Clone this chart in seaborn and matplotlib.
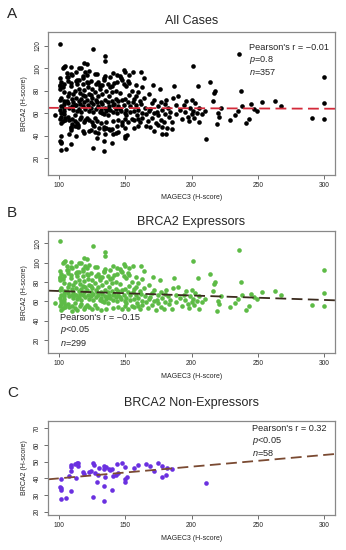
import numpy as np
import pandas as pd
import matplotlib
matplotlib.use("Agg")
import matplotlib.pyplot as plt
import seaborn as sns

sns.set_theme(style="white")
plt.rcParams['font.family'] = ['Liberation Sans', 'DejaVu Sans']
plt.rcParams['mathtext.fontset'] = 'custom'
plt.rcParams['mathtext.rm'] = 'Liberation Sans'
plt.rcParams['mathtext.it'] = 'Liberation Sans:italic'

# BRCA2 expressors (MAGEC3 H-score, BRCA2 H-score)
expr_x = [97, 101, 101, 101, 101, 101, 102, 101, 102, 101, 102, 102, 101, 102, 103, 104, 104, 103, 104, 104, 104, 104, 105, 105, 105, 104,
          106, 107, 107, 107, 107, 107, 108, 108, 108, 109, 109, 109, 110, 110, 110, 110, 111, 111, 111, 112, 112, 112, 113, 113, 113, 113,
          114, 114, 114, 115, 115, 115, 115, 115,
          116, 116, 116, 117, 117, 117, 118, 118, 118, 118, 119, 119, 119, 119, 120, 120, 120, 121, 121, 121, 121, 121, 122, 122, 123, 123,
          123, 123, 124, 124, 124, 125, 125, 125,
          126, 126, 126, 127, 127, 128, 128, 128, 129, 129, 130, 130, 130, 131, 131, 131, 132, 132, 132, 133, 133, 133, 134, 134, 135, 135,
          135, 135, 135, 136, 136, 136,
          137, 137, 137, 138, 138, 139, 139, 140, 140, 140, 141, 141, 141, 142, 142, 143, 143, 143, 144, 144, 145, 145, 145,
          146, 146, 147, 147, 148, 148, 149, 149, 149, 150, 150, 150, 150, 151, 151, 152, 152, 152, 153, 153, 154, 154, 155, 155,
          156, 156, 157, 157, 158, 158, 158, 159, 160, 160, 161, 161, 162, 162, 163, 163, 164, 164, 165,
          166, 167, 168, 168, 170, 170, 171, 172, 172, 173, 175, 175, 176, 177, 177, 178, 179, 180, 180,
          181, 182, 183, 184, 185, 186, 187, 188, 188, 190, 191, 193, 194, 195, 196, 197, 198, 199, 200, 200,
          201, 201, 202, 203, 204, 205, 206, 206, 208, 210, 214, 216, 217, 218, 219, 220, 221, 222,
          229, 233, 236, 237, 238, 241, 243, 245, 247, 249, 253, 263, 267, 291, 300, 300, 300, 235,
          102, 103, 106, 106, 109, 110, 112, 114, 117, 118, 120, 122, 124, 127, 129, 131, 133, 134, 137, 139, 141, 144, 146, 148, 151,
          153, 157, 160, 163, 169, 174, 104]
expr_y = [58, 122, 91, 85, 84, 82, 74, 72, 66, 63, 60, 57, 55, 51, 100, 101, 86, 83, 71, 65, 62, 59, 102, 56, 54, 79,
          96, 89, 75, 69, 92, 57, 54, 65, 78, 101, 87, 84, 73, 66, 94, 55, 77, 70, 63, 58, 53, 80, 97, 89, 74, 67,
          62, 86, 51, 100, 82, 71, 64, 90,
          78, 68, 55, 100, 73, 61, 86, 76, 66, 91, 105, 81, 70, 52, 97, 64, 75, 104, 94, 72, 88, 56, 83, 67, 98, 77,
          62, 54, 70, 65, 89, 82, 74, 52,
          117, 68, 61, 79, 56, 86, 72, 64, 95, 53, 88, 75, 66, 82, 61, 84, 70, 63, 51, 85, 77, 68, 59, 90, 111, 107,
          93, 72, 65, 80, 62, 52,
          86, 70, 58, 75, 66, 63, 92, 84, 79, 71, 96, 61, 53, 68, 87, 80, 73, 64, 88, 60, 71, 54, 66,
          93, 78, 62, 91, 72, 52, 99, 86, 67, 97, 73, 60, 55, 84, 63, 89, 70, 52, 76, 94, 66, 61, 80, 55,
          97, 70, 62, 54, 85, 75, 67, 58, 79, 63, 71, 52, 97, 68, 60, 56, 91, 74, 65,
          59, 53, 77, 62, 69, 56, 85, 72, 60, 51, 66, 58, 82, 70, 54, 63, 52, 68, 59,
          72, 65, 57, 61, 52, 74, 84, 67, 59, 75, 63, 55, 67, 61, 71, 57, 53, 65, 72, 59,
          102, 62, 56, 69, 60, 84, 65, 52, 59, 62, 88, 71, 78, 80, 50, 60, 57, 65,
          54, 58, 113, 80, 66, 51, 55, 68, 64, 62, 70, 71, 66, 56, 92, 69, 55, 62,
          88, 53, 92, 71, 95, 50, 67, 90, 57, 93, 54, 87, 76, 95, 70, 85, 60, 91, 64, 83, 67, 94, 64, 90, 58,
          87, 73, 55, 83, 64, 61, 68]

# BRCA2 non-expressors
non_x = [101.5, 101, 101.5, 102, 101.5, 105.5, 108, 109, 109, 109.5, 109, 112, 113.5, 114.7, 114.5, 113, 118, 119, 122.5, 124,
         126, 126.5, 126, 127, 129, 130, 130.5, 134, 134.5, 134.5, 134.5, 135, 136, 138, 139, 140, 140.5, 141, 143, 144,
         144.5, 148, 150, 150, 150, 151.5, 156.5, 159.5, 166, 169, 172, 174.5, 178, 178, 181, 181.5, 185, 210.7]
non_y = [39.4, 35, 34, 33, 27.4, 28, 41.4, 44.6, 47, 47.8, 32.4, 48.6, 49, 49.4, 47.4, 40, 44, 42.6, 43.8, 44.6,
         49.4, 48.2, 28.6, 43, 37.6, 42.2, 46.4, 47.4, 45.8, 35.4, 26.6, 41, 46.6, 45.8, 45, 33, 45.8, 41.4, 42.2, 48.8,
         43, 49.2, 46.6, 39.6, 37.8, 40.6, 46.4, 48.2, 48.8, 47.4, 44.4, 49.4, 47.4, 41, 41.8, 46.4, 45.8, 37.4]

# regression lines, ends at the x limits
fit_x = [92, 308]
fit_all = [64.8, 64.0]
fit_expr = [71.0, 61.0]
fit_non = [39.4, 54.6]

all_df = pd.DataFrame({"x": expr_x + non_x, "y": expr_y + non_y})
expr_df = pd.DataFrame({"x": expr_x, "y": expr_y})
non_df = pd.DataFrame({"x": non_x, "y": non_y})

W, H = 346, 550
fig = plt.figure(figsize=(W / 100, H / 100), dpi=100)


def box(top, bottom):
    return [48 / W, 1 - bottom / H, (335 - 48) / W, (bottom - top) / H]


panels = [
    dict(df=all_df, color="black", fit=fit_all, lc="#d42a3a", pos=box(31.7, 175), ylim=(4.8, 132.8),
         yt=range(20, 121, 20), title="All Cases", ty=21, letter="A", ly=14,
         txt=["Pearson's r = \u22120.01", "$\\mathit{p}$=0.8", "$\\mathit{n}$=357"], tx=249, tys=[47, 59.5, 72]),
    dict(df=expr_df, color="#5dbb46", fit=fit_expr, lc="#3b2b1e", pos=box(231, 353.3), ylim=(6.2, 132.7),
         yt=range(20, 121, 20), title="BRCA2 Expressors", ty=222, letter="B", ly=213,
         txt=["Pearson's r = \u22120.15", "$\\mathit{p}$<0.05", "$\\mathit{n}$=299"], tx=60, tys=[318, 330.5, 343]),
    dict(df=non_df, color="#6a30e0", fit=fit_non, lc="#7a4a32", pos=box(421, 515), ylim=(18, 74.4),
         yt=range(20, 71, 10), title="BRCA2 Non-Expressors", ty=403, letter="C", ly=393,
         txt=["Pearson's r = 0.32", "$\\mathit{p}$<0.05", "$\\mathit{n}$=58"], tx=252, tys=[428.5, 441, 453.5]),
]

for p in panels:
    ax = fig.add_axes(p["pos"])
    sns.scatterplot(data=p["df"], x="x", y="y", color=p["color"], s=11, linewidth=0, ax=ax)
    sns.lineplot(x=fit_x, y=p["fit"], color=p["lc"], lw=1.3, ax=ax, linestyle=(0, (6, 3)))
    ax.set_xlim(92, 308)
    ax.set_ylim(*p["ylim"])
    ax.set_xticks(range(100, 301, 50))
    ax.set_yticks(list(p["yt"]))
    ax.tick_params(axis="both", length=3, width=0.6, color="#555555", labelsize=4.8, pad=2, bottom=True, left=True)
    ax.tick_params(axis="y", labelrotation=90)
    for lab in ax.get_yticklabels():
        lab.set_va("center")
    for sp in ax.spines.values():
        sp.set_color("#888888")
        sp.set_linewidth(0.9)
    ax.set_xlabel("MAGEC3 (H-score)", fontsize=5, labelpad=4)
    ax.set_ylabel("BRCA2 (H-score)", fontsize=5, labelpad=4)
    fig.text(191.5 / W, 1 - p["ty"] / H, p["title"], ha="center", va="center", fontsize=9)
    fig.text(7 / W, 1 - p["ly"] / H, p["letter"], ha="left", va="center", fontsize=11)
    for t, yy in zip(p["txt"], p["tys"]):
        fig.text(p["tx"] / W, 1 - yy / H, t, ha="left", va="center", fontsize=6.6)

fig.savefig("out.png", dpi=100)
